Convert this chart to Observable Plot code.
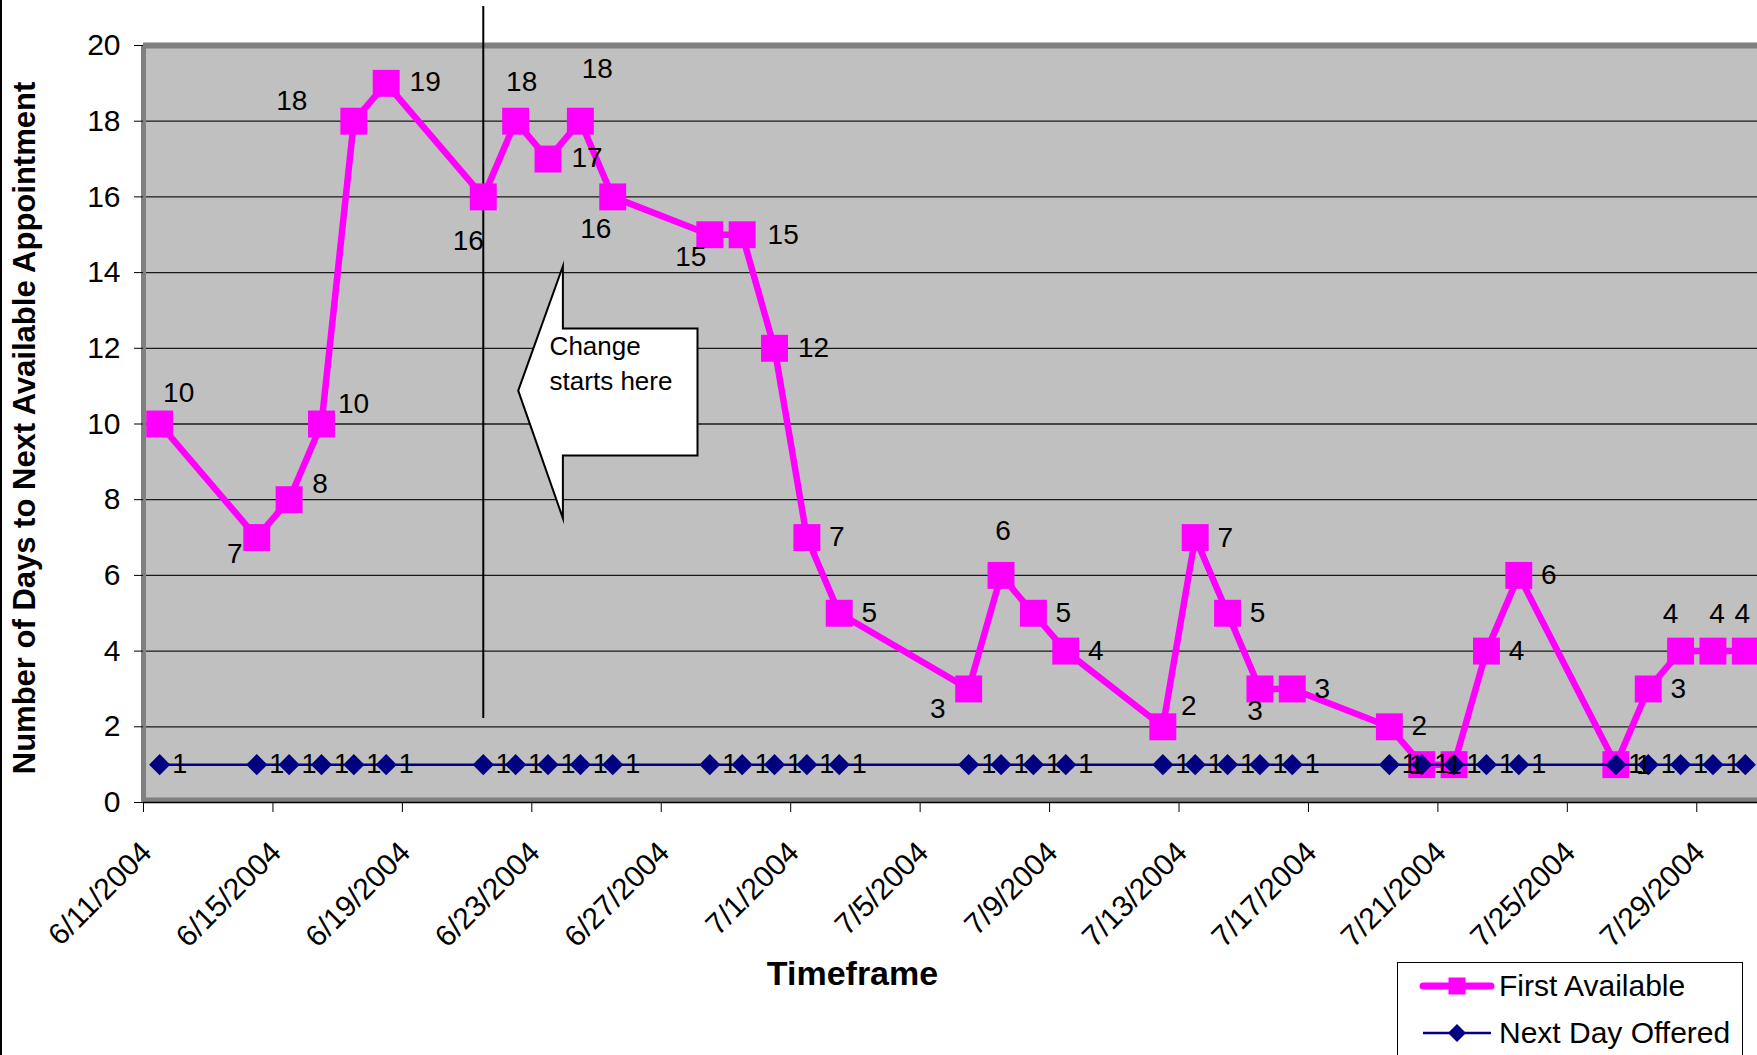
<!DOCTYPE html>
<html><head><meta charset="utf-8">
<script src="https://cdn.jsdelivr.net/npm/d3@7"></script>
<script src="https://cdn.jsdelivr.net/npm/@observablehq/plot@0.6"></script>
<style>
html,body{margin:0;padding:0;overflow:hidden;background:#fff;width:1757px;height:1055px;}
#wrap{position:relative;width:1757px;height:1055px;font-family:"Liberation Sans",Arial,sans-serif;}
#chart{position:absolute;left:0;top:0;}
#edge{position:absolute;left:0;top:0;width:2px;height:1055px;background:#000;}
#legend{position:absolute;left:1397px;top:962px;width:346px;height:120px;border:1.5px solid #000;background:#fff;box-sizing:border-box;}
#legend svg{position:absolute;left:0;top:0;}
</style></head>
<body><div id="wrap"><div id="chart"></div><div id="legend"></div><div id="edge"></div></div>
<script>
// ---- data ----
const dates = ["2004-06-11","2004-06-14","2004-06-15","2004-06-16","2004-06-17","2004-06-18",
  "2004-06-21","2004-06-22","2004-06-23","2004-06-24","2004-06-25",
  "2004-06-28","2004-06-29","2004-06-30","2004-07-01","2004-07-02",
  "2004-07-06","2004-07-07","2004-07-08","2004-07-09",
  "2004-07-12","2004-07-13","2004-07-14","2004-07-15","2004-07-16",
  "2004-07-19","2004-07-20","2004-07-21","2004-07-22","2004-07-23",
  "2004-07-26","2004-07-27","2004-07-28","2004-07-29","2004-07-30"];
const firstAvailable = [10,7,8,10,18,19, 16,18,17,18,16, 15,15,12,7,5, 3,6,5,4, 2,7,5,3,3, 2,1,1,4,6, 1,3,4,4,4];
const nextDayOffered = [1,1,1,1,1,1, 1,1,1,1,1, 1,1,1,1,1, 1,1,1,1, 1,1,1,1,1, 1,1,1,1,1, 1,1,1,1,1];
const tickLabels = ["6/11/2004","6/15/2004","6/19/2004","6/23/2004","6/27/2004","7/1/2004","7/5/2004",
  "7/9/2004","7/13/2004","7/17/2004","7/21/2004","7/25/2004","7/29/2004"];
const yTicks = [0,2,4,6,8,10,12,14,16,18,20];
const seriesNames = ["First Available","Next Day Offered"];
const yTitle = "Number of Days to Next Available Appointment";
const xTitle = "Timeframe";
const calloutText = "Change\nstarts here";
const changeDate = "2004-06-21";
// callout arrow outline, in (days after 6/11/2004, value)
const calloutShape = [[11.58,10.88],[12.96,14.17],[12.96,12.52],[17.12,12.52],[17.12,9.17],[12.96,9.17],[12.96,7.51]];

// ---- layout ----
const labelOffsets = [[19,-31],[-22,16],[31,-16],[32,-20],[-62,-20],[39,-1],[-15,44],[6,-39],[39,-1],[17,-52],[-17,32],
  [-19,22],[41,0],[39,0],[30,-1],[30,0],[-31,20],[2,-44],[30,0],[30,0],[26,-21],[30,0],[30,0],[-5,22],[30,0],
  [30,-1],[-5,0],[0,0],[30,0],[30,0],[28,0],[30,0],[-10,-37],[4,-37],[-3,-37]];
const MAG = "#ff00ff", NAVY = "#000080";
const FONT = "Liberation Sans, Arial, sans-serif";

const parse = d3.utcParse("%Y-%m-%d");
const DAY = 864e5;
const start = parse("2004-06-11");
const end = new Date(+start + 50*DAY);
const pts = dates.map((d,i)=>({date:new Date(+parse(d)+DAY/2), first:firstAvailable[i], next:nextDayOffered[i]}));
const tickDates = tickLabels.map(d3.utcParse("%m/%d/%Y"));
const callout = calloutShape.map(([d,v])=>({date:new Date(+start + d*DAY), v}));
const changeX = new Date(+parse(changeDate)+DAY/2);

const marks = [
  Plot.frame({fill:"#c0c0c0", stroke:"none"}),
  Plot.ruleY(yTicks.filter(t=>t>0&&t<20), {stroke:"#1a1a1a", strokeWidth:1.3}),
  Plot.ruleY([20], {stroke:"#808080", strokeWidth:6}),
  Plot.ruleX([start], {stroke:"#808080", strokeWidth:5}),
  Plot.ruleY([0], {stroke:"#808080", strokeWidth:5, dy:-2.5}),
  Plot.ruleY([0], {stroke:"#000", strokeWidth:1.5}),
  Plot.axisY({ticks:yTicks, tickSize:9, tickPadding:14, fontSize:30, label:null}),
  Plot.axisX({ticks:tickDates, tickSize:10, tickFormat:()=>"", label:null}),
  Plot.text(tickDates, {x:d=>d, frameAnchor:"bottom", text:(d,i)=>tickLabels[i], rotate:-45,
    textAnchor:"end", lineAnchor:"middle", fontSize:30, dx:3, dy:45}),
  Plot.ruleX([changeX], {y1:2.22, y2:21.03, stroke:"#000", strokeWidth:2}),
  Plot.line(callout, {x:"date", y:"v", curve:"linear-closed", fill:"white", stroke:"#000", strokeWidth:2,
    strokeLinejoin:"miter", strokeMiterlimit:10}),
  Plot.text([calloutText], {x:()=>new Date(+start+12.55*DAY), y:()=>11.65, text:d=>d, textAnchor:"start",
    lineAnchor:"middle", lineHeight:1.35, fontSize:26}),
  Plot.line(pts, {x:"date", y:"first", stroke:MAG, strokeWidth:6.5, strokeLinejoin:"miter"}),
  Plot.dot(pts, {x:"date", y:"first", symbol:"square", r:15.2, fill:MAG, stroke:"none"}),
  Plot.line(pts, {x:"date", y:"next", stroke:NAVY, strokeWidth:2.5}),
  Plot.dot(pts, {x:"date", y:"next", symbol:"diamond2", r:9.5, fill:NAVY, stroke:"none"}),
  Plot.text(pts, {x:"date", y:"next", text:d=>String(d.next), dx:20, fontSize:27}),
  ...pts.map((p,i)=>Plot.text([p], {x:"date", y:"first", text:d=>String(d.first), dx:labelOffsets[i][0], dy:labelOffsets[i][1], fontSize:28})),
  Plot.text([yTitle], {frameAnchor:"left", text:d=>d, textAnchor:"middle", dx:-118, dy:4, rotate:-90, fontSize:31, fontWeight:"bold"}),
  Plot.text([xTitle], {frameAnchor:"bottom", text:d=>d, textAnchor:"middle", dx:-98, dy:182, fontSize:34, fontWeight:"bold"})
];

const chart = Plot.plot({
  width:1757, height:1055, marginLeft:143, marginRight:0, marginTop:45, marginBottom:253,
  style:{fontFamily:FONT, background:"transparent", color:"#000", overflow:"visible"},
  x:{type:"utc", domain:[start,end], range:[143, 143+50*32.36]},
  y:{domain:[0,20], range:[802,45]},
  marks
});
document.getElementById("chart").appendChild(chart);

// legend
const lg = d3.select("#legend").append("svg").attr("width",346).attr("height",120)
  .style("font-family", FONT);
lg.append("line").attr("x1",25).attr("x2",93).attr("y1",23).attr("y2",23).attr("stroke",MAG).attr("stroke-width",7).attr("stroke-linecap","round");
lg.append("rect").attr("x",59-8.5).attr("y",23-8.5).attr("width",17).attr("height",17).attr("fill",MAG);
lg.append("text").attr("x",101).attr("y",33).attr("font-size",30).text(seriesNames[0]);
lg.append("line").attr("x1",25).attr("x2",93).attr("y1",70).attr("y2",70).attr("stroke",NAVY).attr("stroke-width",2.5);
lg.append("path").attr("d","M59,61L68,70L59,79L50,70Z").attr("fill",NAVY);
lg.append("text").attr("x",101).attr("y",80).attr("font-size",30).text(seriesNames[1]);
</script></body></html>
